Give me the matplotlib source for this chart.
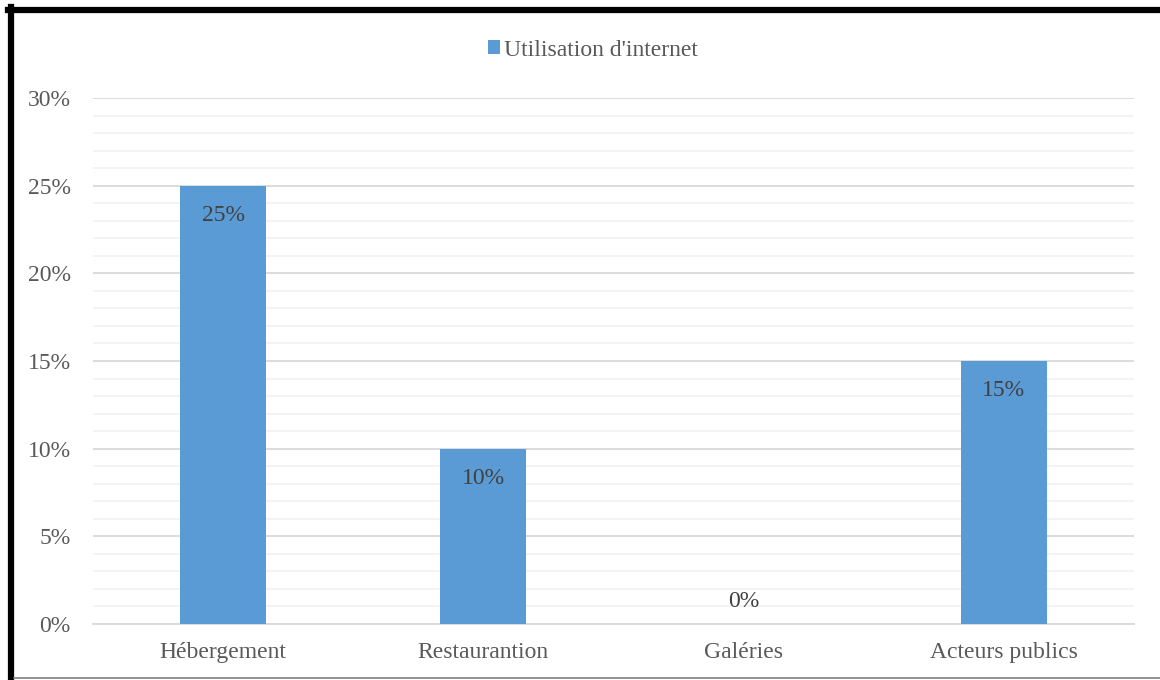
import matplotlib.pyplot as plt
from matplotlib.lines import Line2D
from matplotlib.ticker import MultipleLocator, FuncFormatter

# Data
categories = ['Hébergement', 'Restaurantion', 'Galéries', 'Acteurs publics']
values = [25, 10, 0, 15]
series_name = "Utilisation d'internet"

plt.rcParams['font.family'] = ['Liberation Serif', 'DejaVu Serif']

bar_color = '#5B9BD5'
text_gray = '#595959'

fig = plt.figure(figsize=(11.6, 6.8), dpi=100)
ax = fig.add_axes([93 / 1160, 1 - 624 / 680, (1134 - 93) / 1160, (624 - 98) / 680])

x = range(len(categories))
bars = ax.bar(x, values, width=0.33, color=bar_color, label=series_name, zorder=3)

ax.set_xlim(-0.5, len(categories) - 0.5)
ax.set_ylim(0, 30)
ax.yaxis.set_major_locator(MultipleLocator(5))
ax.yaxis.set_minor_locator(MultipleLocator(1))
ax.yaxis.set_major_formatter(FuncFormatter(lambda v, p: f'{v:.0f}%'))
ax.grid(axis='y', which='major', color='#D9D9D9', linewidth=1.3, zorder=0)
ax.grid(axis='y', which='minor', color='#F2F2F2', linewidth=1.3, zorder=0)

ax.set_xticks(list(x))
ax.set_xticklabels(categories)
ax.tick_params(axis='both', which='both', length=0, labelsize=17, labelcolor=text_gray)
ax.tick_params(axis='y', pad=16)
ax.tick_params(axis='x', pad=13)

for side in ['top', 'right', 'left']:
    ax.spines[side].set_visible(False)
ax.spines['bottom'].set_color('#D9D9D9')
ax.spines['bottom'].set_linewidth(1.3)

# Data labels (inside end; zero value sits above the axis)
for b, v in zip(bars, values):
    if v > 0:
        off = -21.5
    else:
        off = 16.5
    ax.annotate(f'{v}%', (b.get_x() + b.get_width() / 2, v), xytext=(0, off),
                textcoords='offset points', ha='center', va='center',
                fontsize=17, color='#404040', zorder=4)

ax.legend(loc='center', bbox_to_anchor=(593 / 1160, 1 - 50 / 680),
          bbox_transform=fig.transFigure, frameon=False, fontsize=17,
          handlelength=0.5, handleheight=0.5, handletextpad=0.2,
          labelcolor=text_gray)

# Chart border
fig.add_artist(Line2D([8 / 1160, 1], [1 - 10 / 680] * 2, color='black', lw=4.5,
                      transform=fig.transFigure))
fig.add_artist(Line2D([11 / 1160] * 2, [0, 1 - 7 / 680], color='black', lw=4.5,
                      transform=fig.transFigure))
fig.add_artist(Line2D([14 / 1160, 1], [1 - 678 / 680] * 2, color='#7F7F7F', lw=1.2,
                      transform=fig.transFigure))

fig.savefig('out.png', dpi=100)
